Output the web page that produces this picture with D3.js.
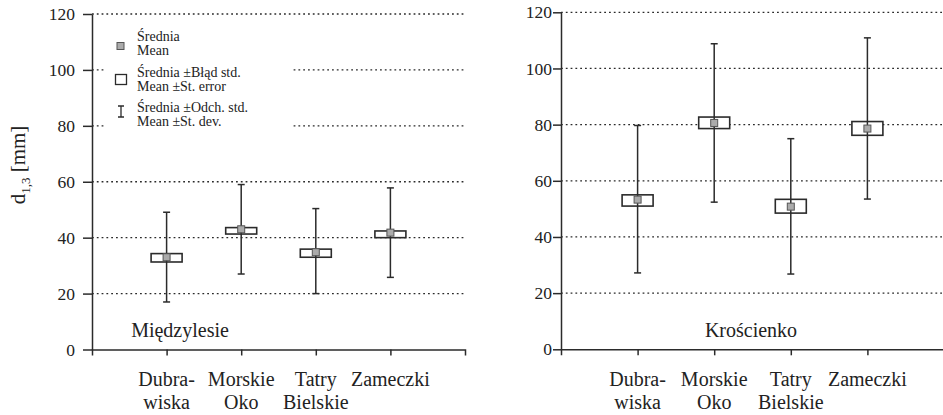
<!DOCTYPE html>
<html>
<head>
<meta charset="utf-8">
<script src="https://cdn.jsdelivr.net/npm/d3@7"></script>
<style>
  body { margin: 0; background: #fff; }
  svg text { font-family: "Liberation Serif", "Times New Roman", serif !important; fill: #222; }
</style>
</head>
<body>
<div id="viz"></div>
<script>

// categories, two lines each
var categories = ["Dubrawiska", "Morskie Oko", "Tatry Bielskie", "Zameczki"];
var catLines = [["Dubra-", "wiska"], ["Morskie", "Oko"], ["Tatry", "Bielskie"], ["Zameczki"]];
var yTicks = [0, 20, 40, 60, 80, 100, 120];

// Międzylesie
var mzMean   = [33.0, 43.0, 34.8, 41.8];
var mzSeLow  = [31.3, 41.3, 33.0, 40.0];
var mzSeHigh = [34.3, 43.6, 35.9, 42.4];
var mzSdLow  = [17.0, 27.0, 20.0, 25.8];
var mzSdHigh = [49.1, 59.0, 50.4, 57.8];

// Krościenko
var krMean   = [53.3, 80.6, 50.8, 78.6];
var krSeLow  = [51.0, 78.6, 48.5, 76.2];
var krSeHigh = [55.0, 82.7, 53.4, 81.1];
var krSdLow  = [27.2, 52.4, 26.8, 53.5];
var krSdHigh = [79.7, 108.8, 75.0, 110.9];

var lineCol = "#2b2b2b";
var serif = "Liberation Serif";

var svg = d3.select("#viz").append("svg")
    .attr("width", 943)
    .attr("height", 415)
    .attr("font-family", serif);

function rows(mean, seL, seH, sdL, sdH) {
    return categories.map(function (c, i) {
        return { cat: c, mean: mean[i], seL: seL[i], seH: seH[i], sdL: sdL[i], sdH: sdH[i] };
    });
}

function drawPanel(p) {
    var x = d3.scalePoint().domain(categories).range([p.x0, p.x1]).padding(1);
    var y = d3.scaleLinear().domain([0, 120]).range([p.yBottom, p.yTop]);
    var g = svg.append("g");

    // dotted grid
    g.selectAll(".grid").data(yTicks.slice(1)).enter().append("line")
        .attr("x1", p.x0).attr("x2", p.x1)
        .attr("y1", function (d) { return y(d); })
        .attr("y2", function (d) { return y(d); })
        .attr("stroke", lineCol).attr("stroke-width", 1.3)
        .attr("stroke-dasharray", "1.8,3");

    if (p.legend) drawLegend(g);

    // y axis
    var ya = g.append("g").attr("transform", "translate(" + p.x0 + ",0)")
        .call(d3.axisLeft(y).tickValues(yTicks).tickSize(p.tick).tickSizeOuter(0).tickPadding(p.pad));
    ya.attr("font-family", serif).attr("font-size", 17.5);
    ya.selectAll("text").attr("fill", "#222");

    // x axis
    var xa = g.append("g").attr("transform", "translate(0," + p.yBottom + ")")
        .call(d3.axisBottom(x).tickSize(6).tickSizeOuter(6).tickFormat(""));
    [ya, xa].forEach(function (a) {
        a.select(".domain").attr("stroke", lineCol).attr("stroke-width", 1.5);
        a.selectAll(".tick line").attr("stroke", lineCol).attr("stroke-width", 1.5);
    });

    // category labels
    var lab = g.selectAll(".cat").data(categories).enter().append("text")
        .attr("text-anchor", "middle")
        .attr("font-family", serif)
        .attr("font-size", 20);
    lab.each(function (d, i) {
        var t = d3.select(this);
        catLines[i].forEach(function (s, k) {
            t.append("tspan").attr("x", x(d)).attr("y", 386 + k * 23).text(s);
        });
    });

    var data = rows(p.mean, p.seL, p.seH, p.sdL, p.sdH);
    var boxW = 31, capW = 7, mk = 7;
    var item = g.selectAll(".item").data(data).enter().append("g");

    item.append("rect")
        .attr("x", function (d) { return x(d.cat) - boxW / 2; })
        .attr("y", function (d) { return y(d.seH); })
        .attr("width", boxW)
        .attr("height", function (d) { return y(d.seL) - y(d.seH); })
        .attr("fill", "#fff").attr("stroke", lineCol).attr("stroke-width", 1.6);

    item.append("line")
        .attr("x1", function (d) { return x(d.cat); })
        .attr("x2", function (d) { return x(d.cat); })
        .attr("y1", function (d) { return y(d.sdL); })
        .attr("y2", function (d) { return y(d.sdH); })
        .attr("stroke", lineCol).attr("stroke-width", 1.5);

    ["sdL", "sdH"].forEach(function (k) {
        item.append("line")
            .attr("x1", function (d) { return x(d.cat) - capW / 2; })
            .attr("x2", function (d) { return x(d.cat) + capW / 2; })
            .attr("y1", function (d) { return y(d[k]); })
            .attr("y2", function (d) { return y(d[k]); })
            .attr("stroke", lineCol).attr("stroke-width", 1.5);
    });

    item.append("rect")
        .attr("x", function (d) { return x(d.cat) - mk / 2; })
        .attr("y", function (d) { return y(d.mean) - mk / 2; })
        .attr("width", mk).attr("height", mk)
        .attr("fill", "#ababab").attr("stroke", "#555").attr("stroke-width", 1);

    // panel title
    g.append("text")
        .attr("x", p.titleX).attr("y", 337)
        .attr("text-anchor", "middle")
        .attr("font-family", serif)
        .attr("font-size", 20)
        .text(p.title);
}

function drawLegend(g) {
    g.append("rect").attr("x", 104).attr("y", 24).attr("width", 188).attr("height", 110)
        .attr("fill", "#fff");
    var items = [
        ["Średnia", "Mean"],
        ["Średnia ±Błąd std.", "Mean ±St. error"],
        ["Średnia ±Odch. std.", "Mean ±St. dev."]
    ];
    var base = [41, 77, 112];
    items.forEach(function (it, i) {
        var t = g.append("text").attr("font-family", serif).attr("font-size", 14);
        t.append("tspan").attr("x", 137).attr("y", base[i]).text(it[0]);
        t.append("tspan").attr("x", 137).attr("y", base[i] + 14).text(it[1]);
    });
    g.append("rect").attr("x", 117).attr("y", 42.5).attr("width", 7).attr("height", 7)
        .attr("fill", "#ababab").attr("stroke", "#555").attr("stroke-width", 1);
    g.append("rect").attr("x", 115.5).attr("y", 74.5).attr("width", 11).attr("height", 10)
        .attr("fill", "#fff").attr("stroke", lineCol).attr("stroke-width", 1.3);
    g.append("path").attr("d", "M118,106H124M121,106V117M118,117H124")
        .attr("fill", "none").attr("stroke", lineCol).attr("stroke-width", 1.3);
}

drawPanel({ x0: 92, x1: 465, yBottom: 349.5, yTop: 14, tick: 9, pad: 8, legend: true,
    mean: mzMean, seL: mzSeLow, seH: mzSeHigh, sdL: mzSdLow, sdH: mzSdHigh,
    title: "Międzylesie", titleX: 180 });
drawPanel({ x0: 561, x1: 944, yBottom: 349.3, yTop: 12.3, tick: 8, pad: 1, legend: false,
    mean: krMean, seL: krSeLow, seH: krSeHigh, sdL: krSdLow, sdH: krSdHigh,
    title: "Krościenko", titleX: 751 });

// y axis title with subscript
var yt = svg.append("text")
    .attr("transform", "translate(25,165) rotate(-90)")
    .attr("text-anchor", "middle")
    .attr("font-family", serif)
    .attr("font-size", 21);
yt.append("tspan").text("d");
yt.append("tspan").attr("dy", 5).attr("font-size", 13).text("1,3");
yt.append("tspan").attr("dy", -5).text(" [mm]");

</script>
</body>
</html>
